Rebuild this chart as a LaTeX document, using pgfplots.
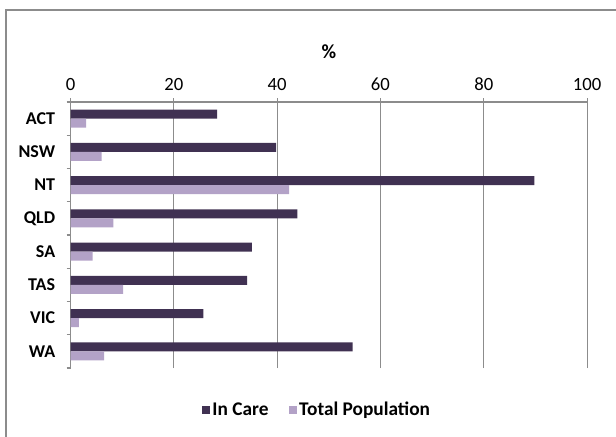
\documentclass[border=0pt]{standalone}
\usepackage{fontspec}
\setmainfont{Carlito}
\usepackage{pgfplots}
\pgfplotsset{compat=1.18}
\definecolor{incare}{HTML}{403152}
\definecolor{totpop}{HTML}{B3A2C7}
\definecolor{gridc}{HTML}{8C8C8C}
\begin{document}
\begin{tikzpicture}[x=1pt,y=1pt]
\useasboundingbox (-52.9,-51) rectangle (409.1,276);
\draw[gridc, line width=0.8pt] (-48.4,-60) -- (-48.4,268.5) -- (415,268.5);
\begin{axis}[
  at={(0,0)}, anchor=south west,
  scale only axis, width=387.4pt, height=199.5pt,
  xbar, bar width=6.8pt,
  xmin=0, xmax=100, ymin=-0.5, ymax=7.5,
  axis x line=top, axis y line=left,
  axis line style={-, gridc, line width=0.8pt},
  xtick={0,20,...,100}, xmajorgrids,
  grid style={gridc, line width=0.8pt},
  tick align=outside, major tick length=3pt,
  tick style={gridc, line width=0.8pt},
  ytick={0,...,7},
  yticklabels={WA,VIC,TAS,SA,QLD,NT,NSW,ACT},
  ytick style={draw=none},
  extra y ticks={-0.5,0.5,...,7.5},
  extra y tick labels={},
  extra y tick style={ytick style={draw=gridc, line width=0.8pt}, grid=none},
  yticklabel style={font=\fontsize{13.5}{15}\selectfont\bfseries, xshift=-5pt},
  xticklabel style={font=\fontsize{14}{16}\selectfont, yshift=2pt},
  /pgf/number format/assume math mode=true,
  title={\bfseries\%},
  title style={at={(axis description cs:0.5,1.16)}, anchor=center, font=\fontsize{15}{17}\selectfont},
  legend style={at={(axis description cs:0.4776,-0.158)}, anchor=center, draw=none,
    font=\fontsize{14.5}{16}\selectfont\bfseries, legend columns=2,
    /tikz/every even column/.append style={column sep=13pt}},
  legend image code/.code={\fill[#1,draw=none] (0pt,-3pt) rectangle (6pt,3pt);},
]
\addplot[fill=incare, draw=none, bar shift=3.4pt] coordinates {
  (28.4,7) (39.8,6) (89.8,5) (43.9,4) (35.1,3) (34.2,2) (25.7,1) (54.6,0)};
\addplot[fill=totpop, draw=none, bar shift=-3.4pt] coordinates {
  (3.0,7) (6.0,6) (42.3,5) (8.3,4) (4.3,3) (10.2,2) (1.6,1) (6.5,0)};
\legend{In Care, Total Population}
\end{axis}
\end{tikzpicture}
\end{document}
